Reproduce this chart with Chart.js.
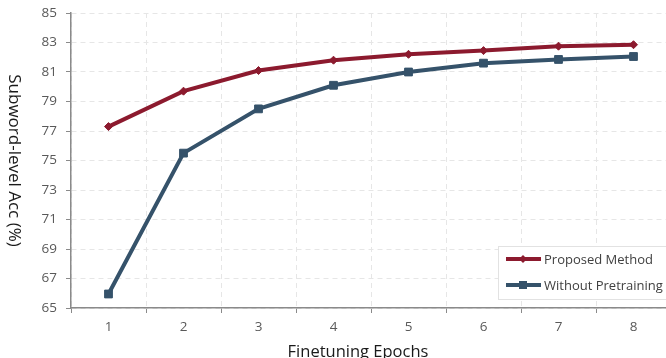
<!DOCTYPE html>
<html><head><meta charset="utf-8">
<script src="https://cdn.jsdelivr.net/npm/chart.js@4/dist/chart.umd.min.js"></script>
<style>
html,body{margin:0;padding:0;background:#fff;overflow:hidden;width:666px;height:358px;}
#wrap{width:680px;height:358px;position:relative;}
</style></head><body>
<div id="wrap"><canvas id="c" width="680" height="358"></canvas></div>
<script>
const epochs = ['1','2','3','4','5','6','7','8'];
const proposed = [77.3, 79.7, 81.1, 81.8, 82.2, 82.45, 82.75, 82.85];
const withoutPretraining = [65.95, 75.5, 78.5, 80.1, 81.0, 81.6, 81.85, 82.05];
const yTicks = [65, 67, 69, 71, 73, 75, 77, 79, 81, 83, 85];
const seriesNames = ['Proposed Method', 'Without Pretraining'];
const xTitle = 'Finetuning Epochs';
const yTitle = 'Subword-level Acc (%)';

const RED = '#8c1a2e', BLUE = '#35526a';
const FONT = '"Open Sans", "Noto Sans", sans-serif';

const extras = {
  id: 'extras',
  afterDraw(chart) {
    const ctx = chart.ctx;
    const ca = chart.chartArea;
    ctx.save();
    ctx.fillStyle = '#1a1a1a';
    ctx.font = '17px ' + FONT;
    ctx.textAlign = 'center';
    ctx.textBaseline = 'middle';
    ctx.translate(14, (ca.top + ca.bottom) / 2);
    ctx.rotate(Math.PI / 2);
    ctx.fillText(yTitle, 0, 0);
    ctx.restore();
    ctx.save();
    ctx.fillStyle = '#1a1a1a';
    ctx.font = '16.5px ' + FONT;
    ctx.textAlign = 'center';
    ctx.textBaseline = 'middle';
    ctx.fillText(xTitle, 358, 352);
    // legend
    const lx = 498, ly = 246, lw = 190, lh = 53;
    ctx.fillStyle = '#fff';
    ctx.fillRect(lx, ly, lw, lh);
    ctx.strokeStyle = '#e2e2e2';
    ctx.lineWidth = 1;
    ctx.strokeRect(lx + 0.5, ly + 0.5, lw, lh);
    const ds = chart.data.datasets;
    ds.forEach((d, i) => {
      const y = ly + 13 + i * 26;
      ctx.strokeStyle = d.borderColor;
      ctx.lineWidth = 4;
      ctx.beginPath();
      ctx.moveTo(lx + 8, y);
      ctx.lineTo(lx + 43, y);
      ctx.stroke();
      ctx.fillStyle = d.borderColor;
      const cx = lx + 25;
      if (i === 0) {
        ctx.beginPath();
        ctx.moveTo(cx, y - 4); ctx.lineTo(cx + 4, y); ctx.lineTo(cx, y + 4); ctx.lineTo(cx - 4, y); ctx.closePath();
        ctx.fill();
      } else {
        ctx.fillRect(cx - 4, y - 4, 8, 8);
      }
      ctx.fillStyle = '#404040';
      ctx.font = '13px ' + FONT;
      ctx.textAlign = 'left';
      ctx.fillText(d.label, lx + 46, y + 1);
    });
    ctx.restore();
  }
};

new Chart(document.getElementById('c'), {
  type: 'line',
  data: {
    labels: epochs,
    datasets: [
      { label: seriesNames[0], data: proposed, borderColor: RED, backgroundColor: RED,
        borderWidth: 4, pointStyle: 'rectRot', pointRadius: 4, pointBorderWidth: 1, tension: 0 },
      { label: seriesNames[1], data: withoutPretraining, borderColor: BLUE, backgroundColor: BLUE,
        borderWidth: 4, pointStyle: 'rect', pointRadius: 5.5, pointBorderWidth: 1, tension: 0 }
    ]
  },
  options: {
    responsive: false,
    animation: false,
    layout: { autoPadding: false, padding: { top: 13, right: 9, bottom: 0, left: 0 } },
    plugins: { legend: { display: false }, tooltip: { enabled: false } },
    scales: {
      x: {
        offset: true,
        grid: { offset: true, color: '#e6e6e6', tickColor: '#8a8a8a', tickLength: 5, lineWidth: 1 },
        border: { color: '#8a8a8a', width: 1.5, dash: [5, 4] },
        ticks: { color: '#595959', font: { family: FONT, size: 13.5 }, padding: 6 },
        afterFit(s) { s.height = 50; s.paddingLeft = 0; s.paddingRight = 0; }
      },
      y: {
        min: 65, max: 85,
        afterBuildTicks(s) { s.ticks = yTicks.map(v => ({ value: v })); },
        grid: { color: '#e6e6e6', tickColor: '#8a8a8a', tickLength: 5, lineWidth: 1 },
        border: { color: '#8a8a8a', width: 1.5, dash: [5, 4] },
        ticks: { color: '#595959', font: { family: FONT, size: 13.5 }, padding: 9 },
        afterFit(s) { s.width = 71; s.paddingTop = 0; s.paddingBottom = 0; }
      }
    }
  },
  plugins: [extras]
});
</script>
</body></html>
